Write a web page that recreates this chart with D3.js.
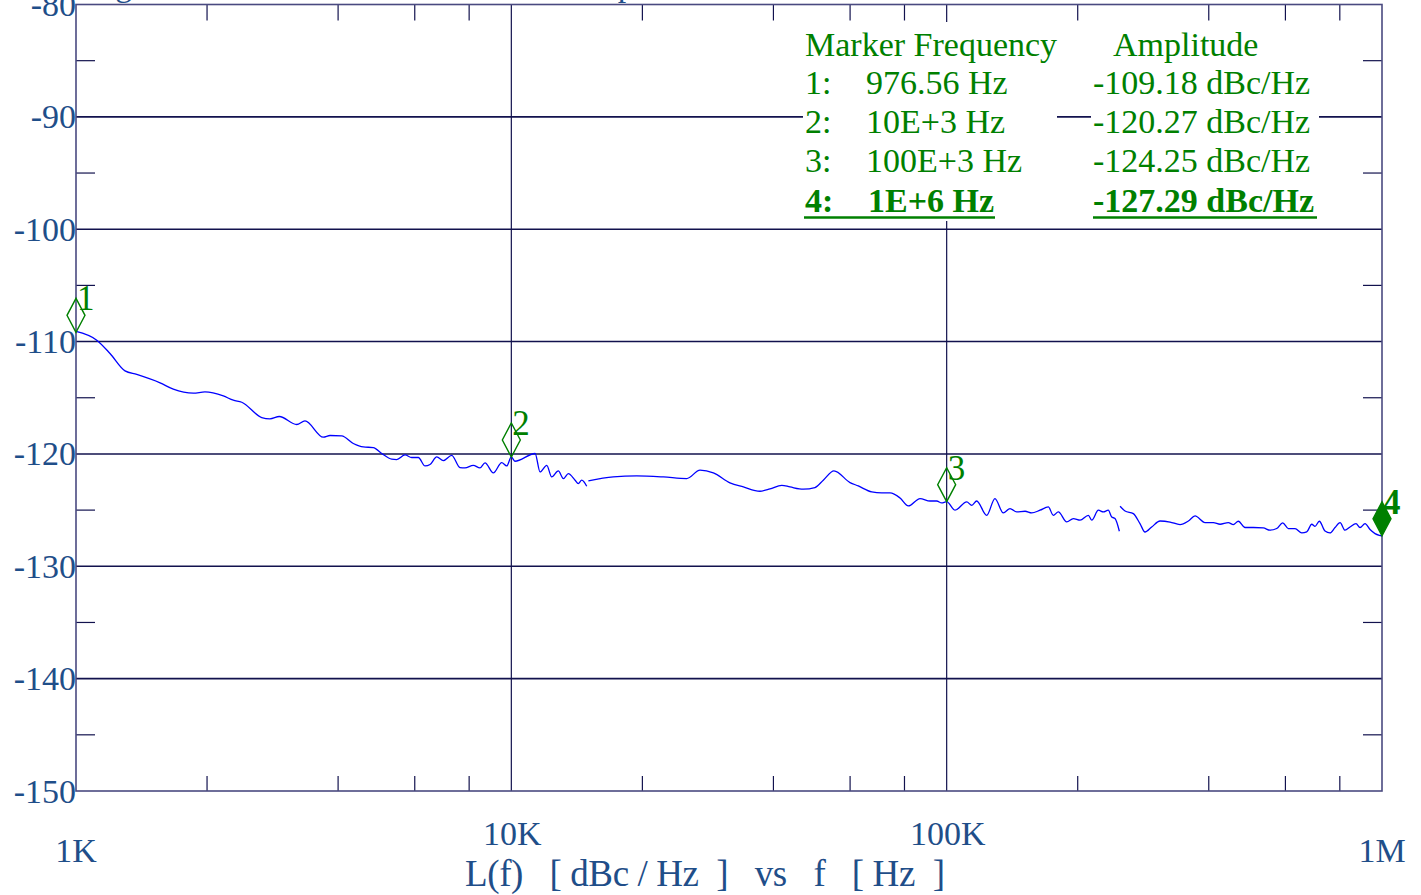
<!DOCTYPE html>
<html>
<head>
<meta charset="utf-8">
<script src="https://cdn.jsdelivr.net/npm/d3@7"></script>
<style>
  html, body { margin: 0; padding: 0; background: #ffffff; }
  svg { display: block; }
  text { font-family: "Liberation Serif", "Times New Roman", serif; }
</style>
</head>
<body>
<svg id="chart" width="1421" height="895"></svg>
<script>
// ---------------- DATA ----------------
// Trace segments (frequency in kHz, L(f) in dBc/Hz)
const segAFreq = [1.00,1.116,1.197,1.296,1.379,1.560,1.673,1.860,1.978,2.180,2.298,2.403,2.671,2.790,2.931,3.214,3.357,3.699,3.833,4.077,4.335,4.571,4.819,5.038,5.311,5.454,5.699,5.904,6.114,6.336,6.506,6.740,6.979,7.295,7.622,7.826,8.177,8.472,8.700,9.092,9.504,9.759,10.00,10.19,11.34,11.64,12.06,12.38,12.82,13.17,13.52,14.01,14.25,14.51,14.90];
const segADb   = [-109.10,-109.88,-111.06,-112.61,-112.93,-113.68,-114.24,-114.59,-114.48,-114.84,-115.22,-115.40,-116.76,-116.88,-116.67,-117.38,-117.06,-118.51,-118.36,-118.40,-119.07,-119.38,-119.43,-119.96,-120.47,-120.50,-120.09,-120.32,-120.32,-121.07,-120.94,-120.27,-120.59,-120.12,-121.21,-121.25,-121.01,-121.25,-120.80,-121.69,-120.77,-121.07,-120.27,-120.65,-119.96,-121.60,-121.01,-122.05,-121.51,-122.19,-121.75,-122.34,-122.64,-122.34,-122.88];

const segBFreq = [15.03,17.15,19.41,22.35,25.28,27.13,29.11,31.78,34.12,37.25,39.28,41.80,43.67,46.84,49.83,52.07,55.10,59.98,62.66,67.28,70.93,74.12,78.14,81.65,86.86,91.57,94.87,97.41,100.0,104.5,111.2,114.2,117.2,123.6,129.1,134.9,139.8,144.8,151.4,156.8,163.8,171.2,175.8,180.5,188.7,195.4,202.5,211.6,215.4,223.1,229.0,235.1,239.4,243.6,249.3];
const segBDb   = [-122.40,-122.05,-121.96,-122.05,-122.19,-121.45,-121.69,-122.58,-122.94,-123.32,-123.12,-122.79,-122.94,-123.14,-122.99,-122.34,-121.51,-122.55,-122.85,-123.38,-123.47,-123.47,-123.92,-124.63,-123.97,-124.19,-124.19,-124.36,-124.25,-125.01,-124.27,-124.57,-124.19,-125.46,-123.97,-125.25,-124.86,-125.16,-125.10,-125.25,-125.01,-124.72,-125.46,-125.16,-126.05,-125.75,-125.90,-125.46,-125.90,-125.01,-125.16,-125.01,-125.61,-125.75,-126.88];

const segCFreq = [250.2,256.9,268.4,278.0,285.5,295.8,309.2,326.0,343.6,359.1,372.0,392.2,409.8,424.6,443.6,455.5,467.7,484.6,506.4,533.8,553.0,573.0,591.5,609.3,631.3,654.1,671.6,689.6,701.8,717.8,739.8,759.6,780.0,801.0,822.4,844.4,871.6,890.3,914.2,938.7,963.8,985.8,1000.0];
const segCDb   = [-124.66,-125.08,-125.31,-126.20,-126.95,-126.50,-125.97,-126.06,-126.29,-125.97,-125.52,-126.11,-126.11,-126.26,-126.11,-126.29,-125.99,-126.55,-126.55,-126.59,-126.79,-126.64,-126.14,-126.64,-126.64,-127.03,-126.94,-126.26,-126.44,-125.99,-126.86,-127.03,-126.55,-126.11,-126.79,-126.50,-126.20,-126.55,-126.20,-126.73,-127.09,-127.24,-127.29];

// Markers
const markerIds   = ["1", "2", "3", "4"];
const markerFreqK = [0.97656, 10, 100, 1000];
const markerAmp   = [-109.18, -120.27, -124.25, -127.29];
const markerFreqText = ["976.56 Hz", "10E+3 Hz", "100E+3 Hz", "1E+6 Hz"];
const markerAmpText  = ["-109.18 dBc/Hz", "-120.27 dBc/Hz", "-124.25 dBc/Hz", "-127.29 dBc/Hz"];

// Axes
const yTicks = [-80, -90, -100, -110, -120, -130, -140, -150];
const yMinorTicks = [-85, -95, -105, -115, -125, -135, -145];
const xMajorTicks = [1, 10, 100, 1000];
const xTickLabels = ["1K", "10K", "100K", "1M"];
const xMinorMult = [2, 4, 6, 8];
const xTitle = "L(f)   [ dBc / Hz  ]   vs   f   [ Hz  ]";
const topTitle = "Single Sideband Phase Noise of the Loop";

// ---------------- DRAW ----------------
const svg = d3.select("#chart");
const L = 76, R = 1382, T = 4.5, B = 791;
const navy = "#12124e", labelBlue = "#1f4e89", green = "#008000";
const FS = 34;

const x = d3.scaleLog().domain([1, 1000]).range([L, R]).clamp(true);
const y = d3.scaleLinear().domain([-150, -80]).range([B, T]);

// cut-off title
svg.append("text").attr("x", 70).attr("y", -4).attr("font-size", FS)
  .attr("fill", labelBlue).text(topTitle);

// horizontal gridlines
svg.append("g").selectAll("line").data(yTicks.filter(v => v > -150 && v < -80)).join("line")
  .attr("x1", L).attr("x2", R).attr("y1", d => y(d)).attr("y2", d => y(d))
  .attr("stroke", navy).attr("stroke-width", 1.6);

// vertical gridlines at decades
svg.append("g").selectAll("line").data(xMajorTicks.filter(v => v > 1 && v < 1000)).join("line")
  .attr("x1", d => x(d)).attr("x2", d => x(d)).attr("y1", T).attr("y2", B)
  .attr("stroke", navy).attr("stroke-width", 1.2);

// minor x ticks
const xMinor = [];
[1, 10, 100].forEach(dec => xMinorMult.forEach(m => xMinor.push(dec * m)));
const gMin = svg.append("g").attr("stroke", navy).attr("stroke-width", 1.2);
gMin.selectAll("line.t").data(xMinor).join("line").attr("class", "t")
  .attr("x1", d => x(d)).attr("x2", d => x(d)).attr("y1", T).attr("y2", T + 16);
gMin.selectAll("line.b").data(xMinor).join("line").attr("class", "b")
  .attr("x1", d => x(d)).attr("x2", d => x(d)).attr("y1", B - 15).attr("y2", B);
// minor y ticks
gMin.selectAll("line.l").data(yMinorTicks).join("line").attr("class", "l")
  .attr("x1", L).attr("x2", L + 19).attr("y1", d => y(d)).attr("y2", d => y(d));
gMin.selectAll("line.r").data(yMinorTicks).join("line").attr("class", "r")
  .attr("x1", R - 19).attr("x2", R).attr("y1", d => y(d)).attr("y2", d => y(d));

// frame
svg.append("rect").attr("x", L).attr("y", T).attr("width", R - L).attr("height", B - T)
  .attr("fill", "none").attr("stroke", "#4a4a80").attr("stroke-width", 1.6);

// legend backgrounds
svg.append("rect").attr("x", 803).attr("y", 22).attr("width", 254).attr("height", 199).attr("fill", "#fff");
svg.append("rect").attr("x", 1091).attr("y", 22).attr("width", 228).attr("height", 199).attr("fill", "#fff");

// trace
const line = d3.line().x(d => x(d[0])).y(d => y(d[1])).curve(d3.curveMonotoneX);
const segs = [
  d3.zip(segAFreq, segADb),
  d3.zip(segBFreq, segBDb),
  d3.zip(segCFreq, segCDb)
];
svg.append("g").selectAll("path").data(segs).join("path")
  .attr("d", line).attr("fill", "none").attr("stroke", "#0000ff").attr("stroke-width", 1.3);

// markers
const mk = svg.append("g");
markerIds.forEach((id, i) => {
  const mx = x(markerFreqK[i]), my = y(markerAmp[i]);
  const last = i === markerIds.length - 1;
  mk.append("path")
    .attr("d", `M${mx},${my} L${mx - 9},${my - 17} L${mx},${my - 34} L${mx + 9},${my - 17} Z`)
    .attr("fill", last ? green : "none").attr("stroke", green).attr("stroke-width", 1.4);
  mk.append("text").attr("x", mx + 1).attr("y", my - 22).attr("font-size", FS + 1)
    .attr("fill", green).attr("font-weight", last ? "bold" : "normal").text(id);
});

// legend
const lg = svg.append("g").attr("fill", green).attr("font-size", FS);
lg.append("text").attr("x", 805).attr("y", 56).text("Marker Frequency");
lg.append("text").attr("x", 1113).attr("y", 56).text("Amplitude");
const rowY = [94, 133, 172, 212];
markerIds.forEach((id, i) => {
  const last = i === markerIds.length - 1;
  const fw = last ? "bold" : "normal";
  lg.append("text").attr("x", 805).attr("y", rowY[i]).attr("font-weight", fw).text(id + ":");
  lg.append("text").attr("x", last ? 868 : 866).attr("y", rowY[i]).attr("font-weight", fw).text(markerFreqText[i]);
  lg.append("text").attr("x", 1093).attr("y", rowY[i]).attr("font-weight", fw).text(markerAmpText[i]);
});
svg.append("line").attr("x1", 804).attr("x2", 995).attr("y1", 217.5).attr("y2", 217.5)
  .attr("stroke", green).attr("stroke-width", 2.6);
svg.append("line").attr("x1", 1093).attr("x2", 1317).attr("y1", 217.5).attr("y2", 217.5)
  .attr("stroke", green).attr("stroke-width", 2.6);

// y tick labels
svg.append("g").selectAll("text").data(yTicks).join("text")
  .attr("x", L).attr("y", d => y(d) + 11.5).attr("text-anchor", "end")
  .attr("font-size", FS).attr("fill", labelBlue).text(d => d);

// x tick labels (staggered as in the original)
svg.append("g").selectAll("text").data(xMajorTicks).join("text")
  .attr("x", d => x(d) + ((d === 1 || d === 1000) ? 0 : 1))
  .attr("y", (d, i) => (i === 0 || i === xMajorTicks.length - 1) ? 862 : 845)
  .attr("text-anchor", "middle").attr("font-size", FS).attr("fill", labelBlue)
  .text((d, i) => xTickLabels[i]);

// axis title
svg.append("text").attr("x", 465).attr("y", 886).attr("font-size", 37)
  .attr("fill", labelBlue).style("white-space", "pre")
  .attr("textLength", 480).attr("lengthAdjust", "spacing").text(xTitle);
</script>
</body>
</html>
